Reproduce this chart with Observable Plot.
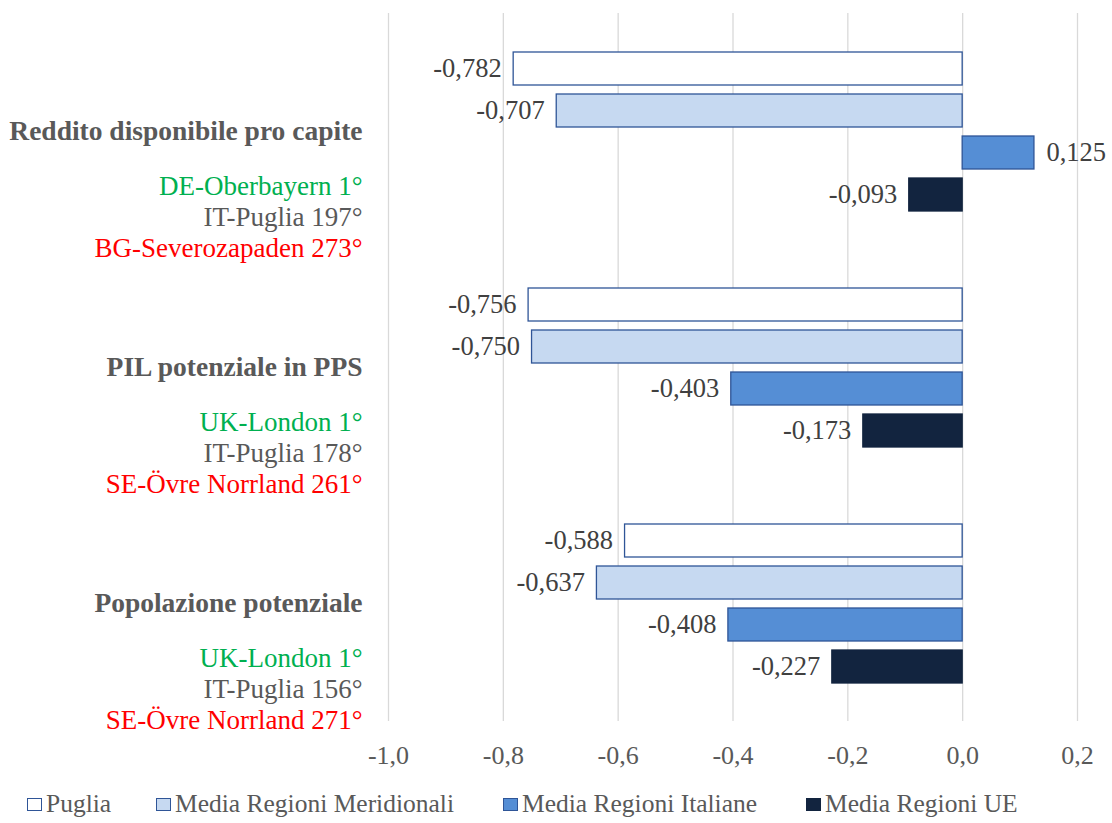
<!DOCTYPE html>
<html>
<head>
<meta charset="utf-8">
<script src="https://cdn.jsdelivr.net/npm/d3@7"></script>
<script src="https://cdn.jsdelivr.net/npm/@observablehq/plot@0.6"></script>
<style>
  body { margin: 0; background: #fff; font-family: "Liberation Serif", "Times New Roman", serif; }
  #chart { width: 1112px; height: 785px; }
  #legend { position: relative; width: 1112px; height: 38px; font-size: 25.5px; color: #595959; }
  .item { position: absolute; top: 0; height: 38px; display: flex; align-items: center; white-space: nowrap; }
  .sw { width: 13px; height: 11px; margin-right: 4px; border: 1.3px solid #2F5597; }
</style>
</head>
<body>
<div id="chart"></div>
<div id="legend"></div>
<script>
// ---- data ----
const indicators = ["Reddito disponibile pro capite", "PIL potenziale in PPS", "Popolazione potenziale"];
const series = ["Puglia", "Media Regioni Meridionali", "Media Regioni Italiane", "Media Regioni UE"];
const reddito = [-0.782, -0.707, 0.125, -0.093];
const pil = [-0.756, -0.750, -0.403, -0.173];
const popolazione = [-0.588, -0.637, -0.408, -0.227];
const bestLabels = ["DE-Oberbayern 1°", "UK-London 1°", "UK-London 1°"];
const pugliaLabels = ["IT-Puglia 197°", "IT-Puglia 178°", "IT-Puglia 156°"];
const worstLabels = ["BG-Severozapaden 273°", "SE-Övre Norrland 261°", "SE-Övre Norrland 271°"];
const xTicks = [-1.0, -0.8, -0.6, -0.4, -0.2, 0.0, 0.2];

// ---- styles ----
const FONT = "'Liberation Serif', 'Times New Roman', serif";
const fillColors = ["#FFFFFF", "#C6D9F1", "#558ED5", "#12243F"];
const strokeColors = ["#2F5597", "#2F5597", "#2F5597", "#12243F"];
const values = [reddito, pil, popolazione];

const locale = d3.formatLocale({decimal: ",", thousands: ".", grouping: [3], currency: ["", "€"], minus: "-"});
const fmt1 = locale.format(".1f");
const fmt3 = locale.format(".3f");

const rows = [];
indicators.forEach((ind, g) => series.forEach((s, i) => rows.push({indicator: ind, series: s, idx: i, value: values[g][i]})));

const subLabels = [];
indicators.forEach((ind, g) => {
  subLabels.push({indicator: ind, text: bestLabels[g], kind: 0});
  subLabels.push({indicator: ind, text: pugliaLabels[g], kind: 1});
  subLabels.push({indicator: ind, text: worstLabels[g], kind: 2});
});
const subColors = ["#00B050", "#595959", "#FF0000"];
const subDy = [55, 86, 117];

const textCommon = {fontFamily: FONT};

const plot = Plot.plot({
  width: 1112,
  height: 785,
  marginLeft: 388,
  marginRight: 35,
  marginTop: 13,
  marginBottom: 64,
  style: {fontFamily: FONT, fontSize: "26px", color: "#595959", background: "#fff"},
  x: {domain: [-1, 0.2], ticks: xTicks, tickFormat: fmt1, label: null, tickSize: 0, tickPadding: 24},
  fy: {domain: indicators, axis: null, padding: 0},
  y: {domain: series, axis: null, paddingInner: 0.22, paddingOuter: 0.87},
  marks: [
    Plot.ruleX(xTicks, {x: d => d, stroke: "#D9D9D9", strokeWidth: 1.3}),
    Plot.barX(rows, {
      x: "value", y: "series", fy: "indicator",
      fill: d => fillColors[d.idx], stroke: d => strokeColors[d.idx], strokeWidth: 1.3
    }),
    Plot.text(rows.filter(d => d.value < 0), {
      x: "value", y: "series", fy: "indicator", text: d => fmt3(d.value),
      textAnchor: "end", dx: -12, fontSize: 26.5, fill: "#404040", ...textCommon
    }),
    Plot.text(rows.filter(d => d.value >= 0), {
      x: "value", y: "series", fy: "indicator", text: d => fmt3(d.value),
      textAnchor: "start", dx: 12, fontSize: 26.5, fill: "#404040", ...textCommon
    }),
    Plot.text(indicators, {
      fy: d => d, text: d => d, frameAnchor: "left", textAnchor: "end", dx: -26,
      fontWeight: "bold", fontSize: 27.5, fill: "#595959", ...textCommon
    }),
    ...[0, 1, 2].map(k => Plot.text(subLabels.filter(d => d.kind === k), {
      fy: "indicator", text: "text", frameAnchor: "left", textAnchor: "end", dx: -26, dy: subDy[k],
      fontSize: 27, fill: subColors[k], ...textCommon
    }))
  ]
});
document.getElementById("chart").appendChild(plot);

// ---- legend ----
const legendX = [27, 156, 503, 806];
const legend = document.getElementById("legend");
series.forEach((s, i) => {
  const item = document.createElement("div");
  item.className = "item";
  item.style.left = legendX[i] + "px";
  const sw = document.createElement("span");
  sw.className = "sw";
  sw.style.background = fillColors[i];
  sw.style.borderColor = strokeColors[i];
  const t = document.createElement("span");
  t.textContent = s;
  item.appendChild(sw);
  item.appendChild(t);
  legend.appendChild(item);
});
</script>
</body>
</html>
